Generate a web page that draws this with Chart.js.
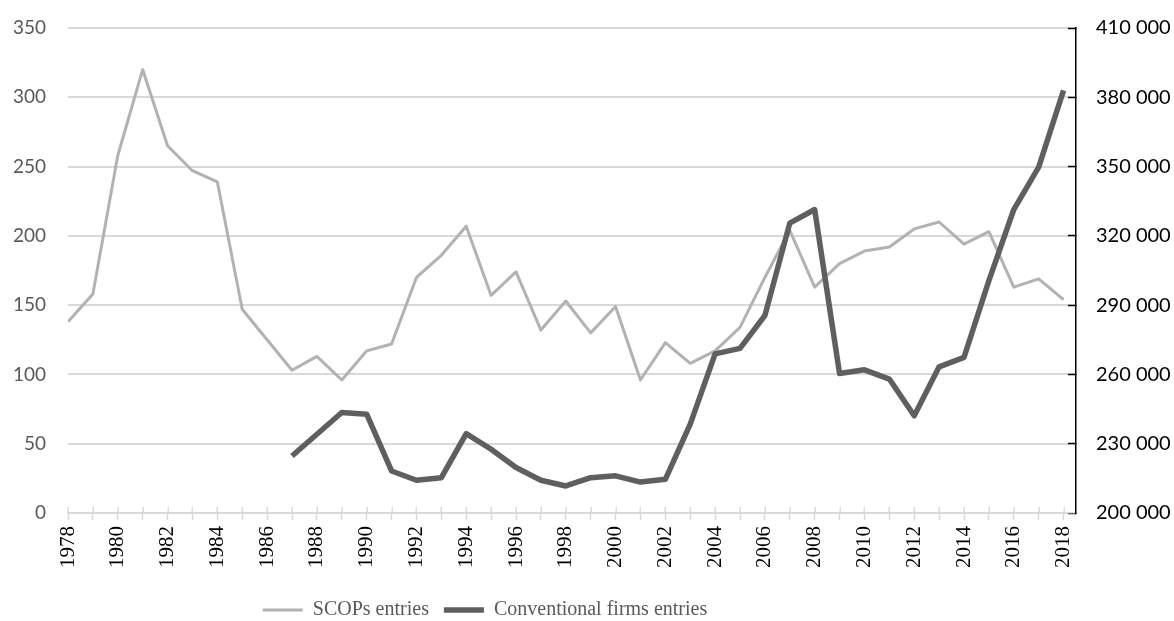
<!DOCTYPE html>
<html>
<head>
<meta charset="utf-8">
<script src="https://cdn.jsdelivr.net/npm/chart.js@4.4.0/dist/chart.umd.min.js"></script>
<style>
  html, body { margin: 0; padding: 0; background: #fff; }
</style>
</head>
<body>
<canvas id="entriesChart" width="1174" height="621"></canvas>
<script>
// ===== DATA =====
const years = [1978, 1979, 1980, 1981, 1982, 1983, 1984, 1985, 1986, 1987,
               1988, 1989, 1990, 1991, 1992, 1993, 1994, 1995, 1996, 1997,
               1998, 1999, 2000, 2001, 2002, 2003, 2004, 2005, 2006, 2007,
               2008, 2009, 2010, 2011, 2012, 2013, 2014, 2015, 2016, 2017, 2018];

// SCOPs entries (left axis)
const scopsEntries = [138, 158, 258, 320, 265, 247, 239, 147, 125, 103,
                      113, 96, 117, 122, 170, 186, 207, 157, 174, 132,
                      153, 130, 149, 96, 123, 108, 117, 134, 170, 204,
                      163, 180, 189, 192, 205, 210, 194, 203, 163, 169, 154];

// Conventional firms entries (right axis), series starts in 1987
const conventionalEntries = [null, null, null, null, null, null, null, null, null, 224700,
                             234100, 243500, 242800, 218200, 214200, 215300, 234400, 227600, 219700, 214200,
                             211700, 215300, 216100, 213400, 214600, 238500, 268900, 271300, 285500, 325500,
                             331400, 260400, 262000, 258000, 242100, 263300, 267400, 300600, 331400, 349800, 383000];

const leftTicks = [0, 50, 100, 150, 200, 250, 300, 350];
const rightTicks = [200000, 230000, 260000, 290000, 320000, 350000, 380000, 410000];

const seriesNames = ['SCOPs entries', 'Conventional firms entries'];

// ===== HELPERS =====
const fmtSpace = (n) => String(n).replace(/\B(?=(\d{3})+(?!\d))/g, ' ');
const toPoints = (vals) => years.map((y, i) => ({ x: y, y: vals[i] }));

// vertical axes should not push the plot area down (labels overflow like in Excel)
const noVertPad = (s) => { s.paddingTop = 0; s.paddingBottom = 0; };

// shift the legend block to where it sits in the original figure
const legendPlacer = {
  id: 'legendPlacer',
  afterLayout(chart) {
    const lg = chart.legend;
    if (!lg) return;
    const dx = 485 - (lg.left + lg.right) / 2;
    lg.left += dx;
    lg.right += dx;
    lg.top = 585;
    lg.bottom = lg.top + lg.height;
  }
};

// Excel style "cross" tick marks: add the part above the category axis
const crossTicks = {
  id: 'crossTicks',
  beforeDatasetsDraw(chart) {
    const xs = chart.scales.x;
    const c = chart.ctx;
    const base = chart.chartArea.bottom;
    c.save();
    c.strokeStyle = '#d9d9d9';
    c.lineWidth = 1.5;
    c.beginPath();
    years.forEach(v => {
      const px = Math.round(xs.getPixelForValue(v)) + 0.25;
      c.moveTo(px, base - 6);
      c.lineTo(px, base);
    });
    c.stroke();
    c.restore();
  }
};

// ===== CHART =====
const ctx = document.getElementById('entriesChart').getContext('2d');
new Chart(ctx, {
  type: 'line',
  data: {
    datasets: [
      {
        label: seriesNames[0],
        data: toPoints(scopsEntries),
        yAxisID: 'y',
        borderColor: '#b2b2b2',
        borderWidth: 3,
        pointRadius: 0,
        tension: 0,
        fill: false,
        borderJoinStyle: 'round',
        order: 1
      },
      {
        label: seriesNames[1],
        data: toPoints(conventionalEntries),
        yAxisID: 'y2',
        borderColor: '#5f5f5f',
        borderWidth: 5.5,
        pointRadius: 0,
        tension: 0,
        fill: false,
        borderJoinStyle: 'round',
        order: 0
      }
    ]
  },
  options: {
    responsive: false,
    animation: false,
    devicePixelRatio: 1,
    layout: { padding: { top: 28, left: 0, right: 0, bottom: 0 } },
    plugins: {
      tooltip: { enabled: false },
      legend: {
        position: 'bottom',
        labels: {
          usePointStyle: true,
          pointStyle: 'line',
          pointStyleWidth: 40,
          padding: 15,
          color: '#595959',
          font: { family: 'Liberation Serif', size: 20 },
          sort: (a, b) => a.datasetIndex - b.datasetIndex
        }
      }
    },
    scales: {
      x: {
        type: 'linear',
        min: 1978,
        max: 2018.5,
        bounds: 'data',
        afterBuildTicks: (s) => { s.ticks = years.map(v => ({ value: v })); },
        afterFit: (s) => { s.height = 63; },
        grid: {
          drawOnChartArea: false,
          tickLength: 7,
          tickColor: '#d9d9d9',
          tickWidth: 1.5
        },
        border: { color: '#d9d9d9', width: 1.5 },
        ticks: {
          autoSkip: false,
          maxRotation: 90,
          minRotation: 90,
          padding: 6,
          color: '#000',
          font: { family: 'Liberation Serif', size: 21 },
          callback: (v) => (v % 2 === 0 ? String(v) : '')
        }
      },
      y: {
        position: 'left',
        min: 0,
        max: 350,
        afterBuildTicks: (s) => { s.ticks = leftTicks.map(v => ({ value: v })); },
        afterFit: (s) => { s.width = 68; noVertPad(s); },
        grid: { color: '#d9d9d9', lineWidth: 2, drawTicks: false },
        border: { display: false },
        ticks: {
          padding: 22,
          color: '#595959',
          font: { family: 'Lato', size: 19 }
        }
      },
      y2: {
        position: 'right',
        min: 200000,
        max: 410000,
        afterBuildTicks: (s) => { s.ticks = rightTicks.map(v => ({ value: v })); },
        afterFit: (s) => { s.width = 98; noVertPad(s); },
        grid: {
          drawOnChartArea: false,
          tickLength: -8,
          tickColor: '#000',
          tickWidth: 1.5
        },
        border: { color: '#000', width: 1.5 },
        ticks: {
          padding: 28,
          color: '#000',
          font: { family: 'Lato', size: 20 },
          callback: (v) => fmtSpace(v)
        }
      }
    }
  },
  plugins: [legendPlacer, crossTicks]
});
</script>
</body>
</html>
